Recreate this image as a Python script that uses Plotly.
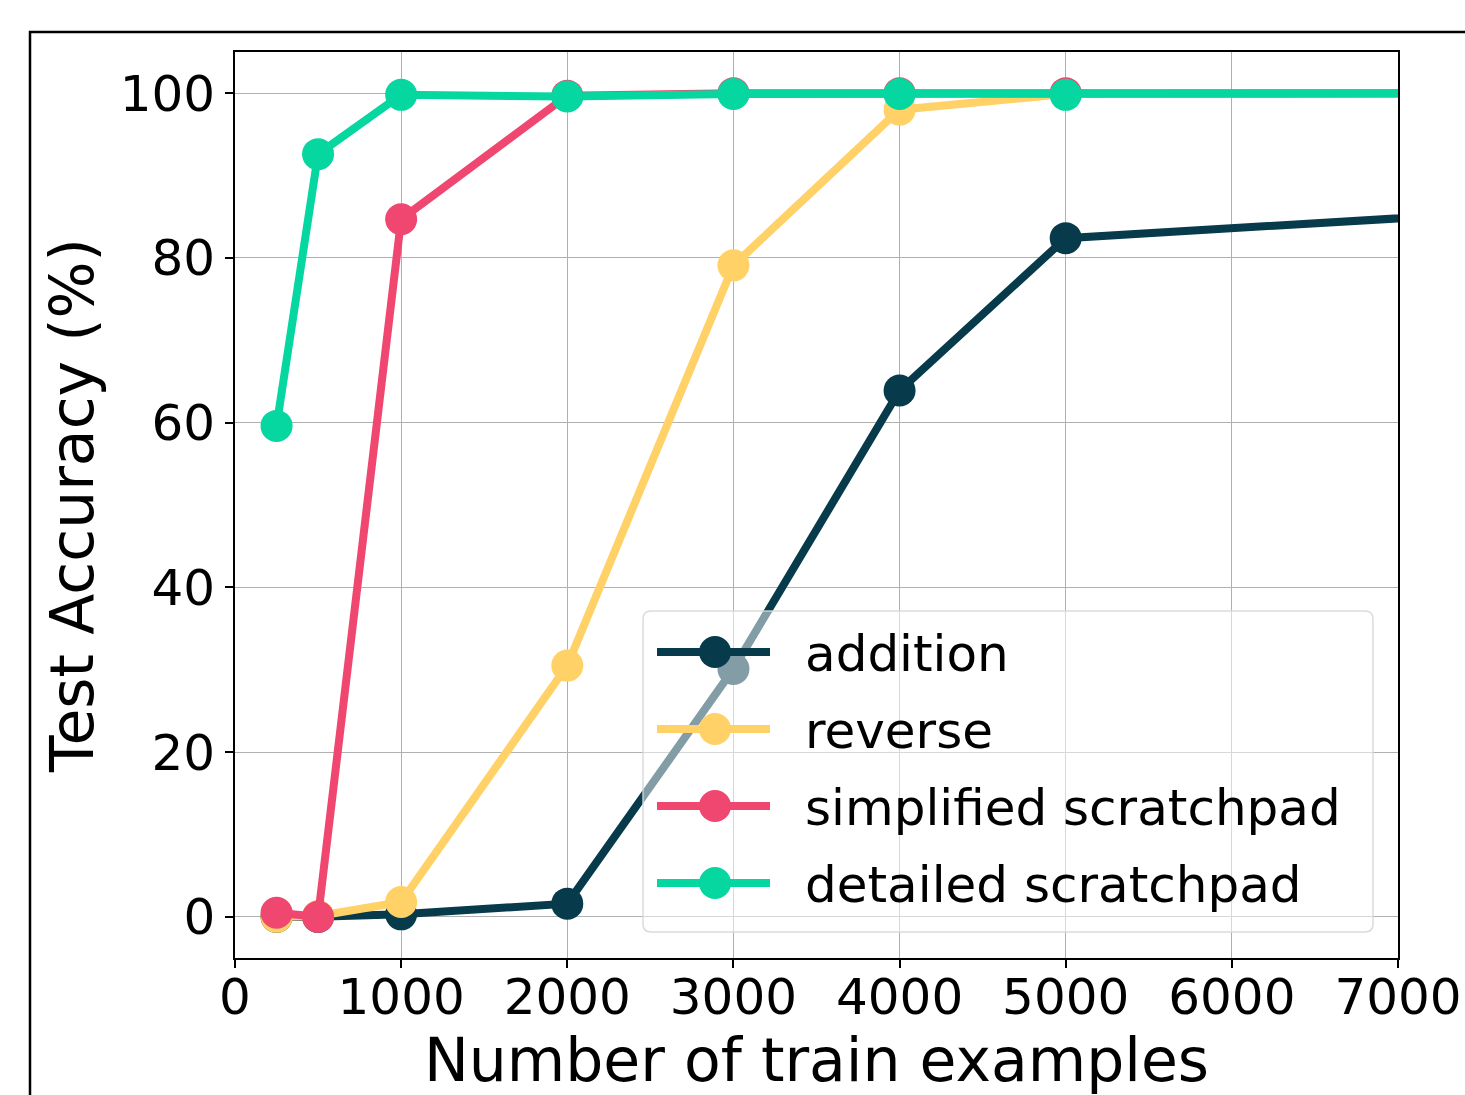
import plotly.graph_objects as go

# ---- data ----
train_examples = [250, 500, 1000, 2000, 3000, 4000, 5000, 10000]
addition = [0.0, 0.0, 0.3, 1.6, 30.1, 63.9, 82.4, 88.4]
reverse = [0.0, 0.1, 1.8, 30.5, 79.1, 98.0, 99.9, 100.0]
simplified_scratchpad = [0.5, 0.0, 84.7, 99.7, 100.0, 100.0, 100.0, 100.0]
detailed_scratchpad = [59.6, 92.6, 99.8, 99.6, 99.9, 99.9, 99.8, 100.0]

series_names = ["addition", "reverse", "simplified scratchpad", "detailed scratchpad"]
series_values = [addition, reverse, simplified_scratchpad, detailed_scratchpad]
colors = ["#073B4C", "#FFD166", "#EF476F", "#06D6A0"]

x_ticks = [0, 1000, 2000, 3000, 4000, 5000, 6000, 7000]
y_ticks = [0, 20, 40, 60, 80, 100]

FONT = "DejaVu Sans"
W, H = 1465, 1095
PL, PR, PT, PB = 235, 1398, 52, 958  # plot area in pixels


def px_x(p):
    return (p - PL) / (PR - PL)


def px_y(p):
    return (PB - p) / (PB - PT)


fig = go.Figure()
for name, vals, col in zip(series_names, series_values, colors):
    fig.add_trace(go.Scatter(
        x=train_examples, y=vals, name=name, mode="lines+markers",
        line=dict(color=col, width=8),
        marker=dict(color=col, size=32, line=dict(width=0)),
        showlegend=False,
    ))

axis_common = dict(
    showline=True, linecolor="black", linewidth=1.6, mirror=True,
    ticks="outside", ticklen=8, tickwidth=1.6, tickcolor="black",
    showgrid=True, gridcolor="#b0b0b0", gridwidth=1.2, zeroline=False,
    tickfont=dict(family=FONT, size=50, color="black"),
    automargin=False,
)

fig.update_xaxes(range=[0, 7000], tickvals=x_ticks,
                 ticktext=[str(v) for v in x_ticks],
                 ticklabelstandoff=-14,
                 title=dict(text="Number of train examples",
                            font=dict(family=FONT, size=60, color="black"),
                            standoff=17),
                 **axis_common)
fig.update_yaxes(range=[-5, 105], tickvals=y_ticks,
                 ticktext=[str(v) for v in y_ticks],
                 title=dict(text="Test Accuracy (%)",
                            font=dict(family=FONT, size=60, color="black"),
                            standoff=7),
                 **axis_common)

shapes = []
# outer figure frame
shapes.append(dict(type="rect", xref="paper", yref="paper",
                   x0=px_x(30), x1=px_x(1480), y0=px_y(1110), y1=px_y(32),
                   line=dict(color="black", width=2.5), fillcolor="rgba(0,0,0,0)",
                   layer="above"))

# custom legend box (rounded rect)
L, R, T, B, r = 643, 1373, 611, 932, 8


def P(x, y):
    return f"{px_x(x):.6f},{px_y(y):.6f}"


path = (f"M{P(L + r, T)} L{P(R - r, T)} Q{P(R, T)} {P(R, T + r)} "
        f"L{P(R, B - r)} Q{P(R, B)} {P(R - r, B)} L{P(L + r, B)} "
        f"Q{P(L, B)} {P(L, B - r)} L{P(L, T + r)} Q{P(L, T)} {P(L + r, T)} Z")
shapes.append(dict(type="path", xref="paper", yref="paper", path=path,
                   fillcolor="rgba(255,255,255,0.5)",
                   line=dict(color="rgba(215,215,215,0.9)", width=1.5),
                   layer="above"))

rows = [652, 729, 806, 883]
annotations = []
for name, col, ry in zip(series_names, colors, rows):
    shapes.append(dict(type="line", xref="paper", yref="paper",
                       x0=px_x(657), x1=px_x(770), y0=px_y(ry), y1=px_y(ry),
                       line=dict(color=col, width=8), layer="above"))
    shapes.append(dict(type="circle", xref="paper", yref="paper",
                       x0=px_x(715 - 16), x1=px_x(715 + 16),
                       y0=px_y(ry + 16), y1=px_y(ry - 16),
                       fillcolor=col, line=dict(width=0), layer="above"))
    annotations.append(dict(text=name, xref="paper", yref="paper",
                            x=px_x(803), y=px_y(ry + 2), xanchor="left",
                            yanchor="middle", showarrow=False,
                            font=dict(family=FONT, size=50, color="black")))

fig.update_layout(
    width=W, height=H,
    margin=dict(l=PL, r=W - PR, t=PT, b=H - PB, pad=0, autoexpand=False),
    plot_bgcolor="white", paper_bgcolor="white",
    shapes=shapes, annotations=annotations,
    showlegend=False,
    font=dict(family=FONT, color="black"),
)

fig.write_html("out.html")
